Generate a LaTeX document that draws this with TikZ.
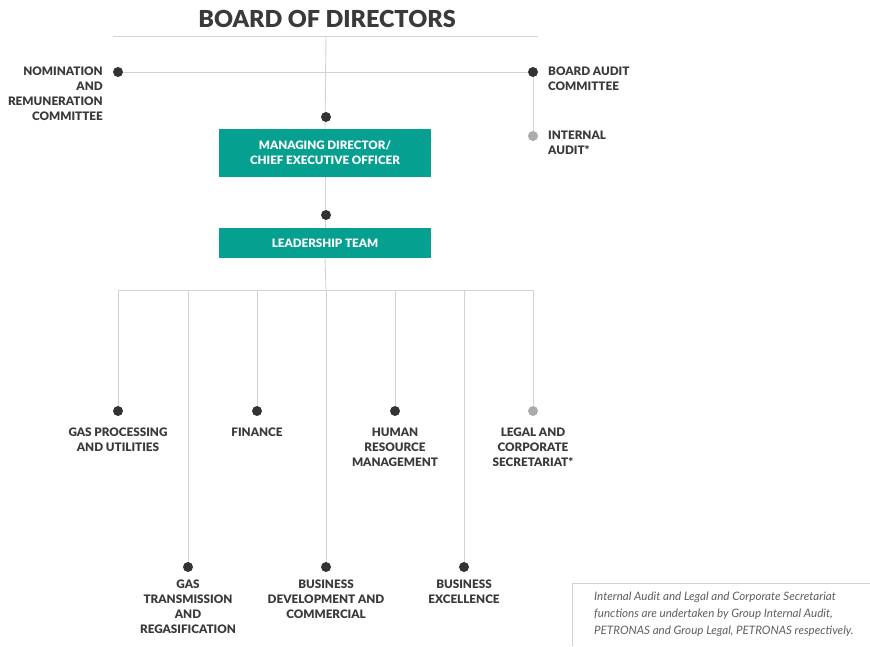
\documentclass[tikz,border=0pt]{standalone}
\usepackage{fontspec}
\setmainfont{Lato}[BoldFont=Lato Black, BoldItalicFont=Lato Black Italic]
\usetikzlibrary{backgrounds}
\definecolor{teal1}{HTML}{05A090}
\definecolor{txt}{HTML}{3A3A3A}
\definecolor{ln}{HTML}{D2D2D2}
\definecolor{dk}{HTML}{333333}
\definecolor{lg}{HTML}{ABABAB}
\definecolor{note}{HTML}{5E5E5E}
\tikzset{
  lbl/.style={inner sep=0pt, text=txt, font=\fontsize{11.7}{15}\selectfont\bfseries},
  dot/.style={circle, fill=dk, minimum size=10pt, inner sep=0pt},
  gdot/.style={circle, fill=lg, minimum size=10pt, inner sep=0pt},
  tbox/.style={fill=teal1, minimum width=212pt, inner sep=0pt, text=white, align=center, font=\fontsize{11.6}{15}\selectfont\bfseries},
  conn/.style={draw=ln, line width=0.9pt}
}
\begin{document}
\begin{tikzpicture}[x=1pt,y=-1pt]
\useasboundingbox (0,0) rectangle (870,646);
% title
\node[inner sep=0pt, text=txt, font=\fontsize{23.4}{24}\selectfont\bfseries] (title) at (327,19) {BOARD OF DIRECTORS};
\coordinate (tl) at (113,36);
\coordinate (tr) at (538,36);
\coordinate (t0) at (326,36);
% dots
\node[dot] (dNom) at (118,72) {};
\node[dot] (dBac) at (533,72) {};
\node[gdot] (dIa) at (533,136) {};
\node[dot] (dMd) at (326,117) {};
\node[dot] (dLt) at (326,215) {};
% boxes
\node[tbox, minimum height=48pt] (md) at (325,153) {MANAGING DIRECTOR/\\CHIEF EXECUTIVE OFFICER};
\node[tbox, minimum height=30pt] (lt) at (325,243) {LEADERSHIP TEAM};
% labels top
\node[lbl, align=right, anchor=north east] (lNom) at (103,67) {NOMINATION\\AND\\REMUNERATION\\COMMITTEE};
\node[lbl, align=left, anchor=north west] (lBac) at (548,67) {BOARD AUDIT\\COMMITTEE};
\node[lbl, align=left, anchor=north west] (lIa) at (548,131) {INTERNAL\\AUDIT*};
% bar
\coordinate (b1) at (118,290);
\coordinate (b7) at (533,290);
\coordinate (bc) at (326,290);
\coordinate (x2) at (188,290);
\coordinate (x3) at (257,290);
\coordinate (x5) at (395,290);
\coordinate (x6) at (464,290);
% bottom dots
\node[dot] (g1) at (118,411) {};
\node[dot] (g2) at (188,567) {};
\node[dot] (g3) at (257,411) {};
\node[dot] (g4) at (326,567) {};
\node[dot] (g5) at (395,411) {};
\node[dot] (g6) at (464,567) {};
\node[gdot] (g7) at (533,411) {};
% bottom labels
\node[lbl, align=center, anchor=north] (l1) at (118,428) {GAS PROCESSING\\AND UTILITIES};
\node[lbl, align=center, anchor=north] (l3) at (257,428) {FINANCE};
\node[lbl, align=center, anchor=north] (l5) at (395,428) {HUMAN\\RESOURCE\\MANAGEMENT};
\node[lbl, align=center, anchor=north] (l7) at (533,428) {LEGAL AND\\CORPORATE\\SECRETARIAT*};
\node[lbl, align=center, anchor=north] (l2) at (188,580) {GAS\\TRANSMISSION\\AND\\REGASIFICATION};
\node[lbl, align=center, anchor=north] (l4) at (326,580) {BUSINESS\\DEVELOPMENT AND\\COMMERCIAL};
\node[lbl, align=center, anchor=north] (l6) at (464,580) {BUSINESS\\EXCELLENCE};
% note
\coordinate (n1) at (572,646);
\coordinate (n2) at (572,583);
\coordinate (n3) at (870,583);
\draw[draw=ln, line width=0.8pt] (n1) -- (n2) -- (n3);
\node[inner sep=0pt, anchor=north west, align=left, text=note, font=\fontsize{11.6}{17}\selectfont\itshape] (note) at (594,592) {Internal Audit and Legal and Corporate Secretariat\\functions are undertaken by Group Internal Audit,\\PETRONAS and Group Legal, PETRONAS respectively.};
% connectors
\begin{scope}[on background layer]
\draw[conn] (tl) -- (tr);
\draw[conn] (t0) -- (md.north);
\draw[conn] (dNom) -- (dBac);
\draw[conn] (dBac) -- (dIa);
\draw[conn] (md.south) -- (lt.north);
\draw[conn] (lt.south) -- (bc);
\draw[conn] (b1) -- (b7);
\draw[conn] (b1) -- (g1);
\draw[conn] (x2) -- (g2);
\draw[conn] (x3) -- (g3);
\draw[conn] (bc) -- (g4);
\draw[conn] (x5) -- (g5);
\draw[conn] (x6) -- (g6);
\draw[conn] (b7) -- (g7);
\end{scope}
\end{tikzpicture}
\end{document}
